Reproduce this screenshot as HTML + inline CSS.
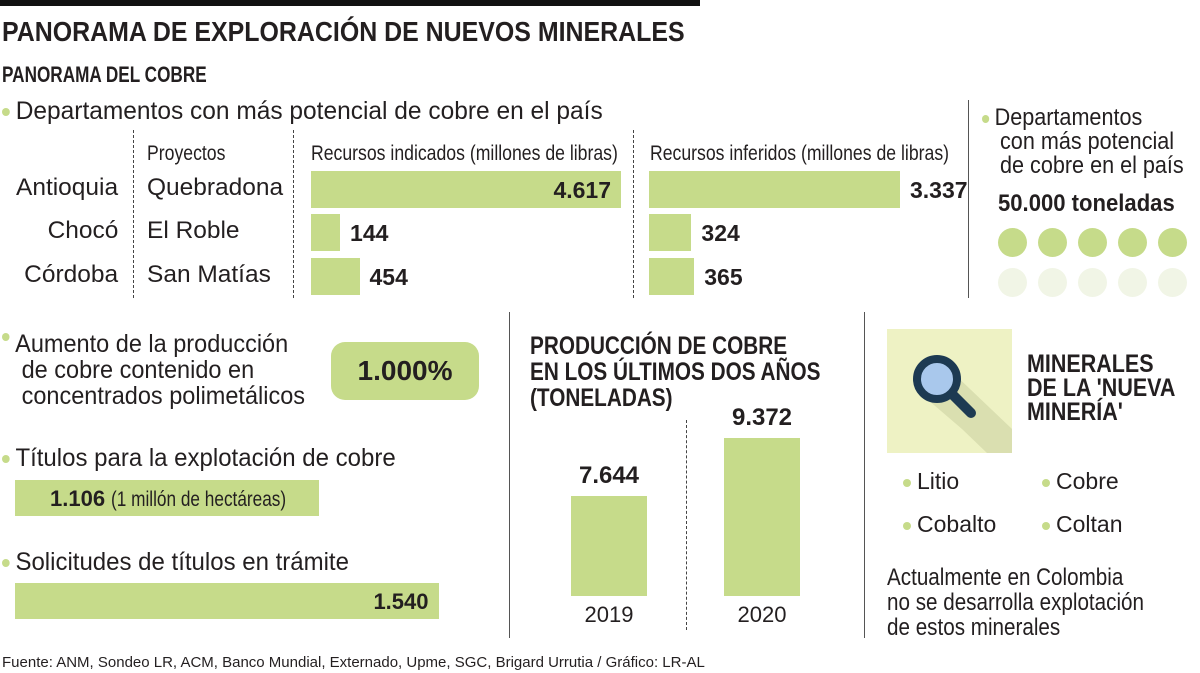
<!DOCTYPE html>
<html><head><meta charset="utf-8">
<style>
body{margin:0;width:1200px;height:673px;background:#fff;position:relative;overflow:hidden;font-family:"Liberation Sans",sans-serif;color:#231f20}
.a{position:absolute;white-space:nowrap}
.c{transform:scaleX(var(--s,.95));transform-origin:0 0}
.cr{transform:scaleX(var(--s,.95));transform-origin:100% 0}
.dot{display:inline-block;width:8px;height:8px;border-radius:50%;background:#c6db8a;margin-right:6px;vertical-align:middle}
.bar{position:absolute;background:#c6db8a}
.vl{position:absolute;width:0;border-left:1px dashed #444}
.sl{position:absolute;width:1px;background:#555}
.b{font-weight:bold}
</style></head><body>
<div class="a" style="left:0;top:0;width:700px;height:6px;background:#111"></div>
<div class="a c b" style="--s:.89;left:2px;top:16px;font-size:28px">PANORAMA DE EXPLORACIÓN DE NUEVOS MINERALES</div>
<div class="a c b" style="--s:.78;left:2px;top:62px;font-size:22px">PANORAMA DEL COBRE</div>
<div class="a c" style="--s:.98;left:2px;top:97px;font-size:25px"><span class="dot"></span>Departamentos con más potencial de cobre en el país</div>

<div class="vl" style="left:133px;top:130px;height:168px"></div>
<div class="vl" style="left:293px;top:130px;height:168px"></div>
<div class="vl" style="left:633px;top:130px;height:168px"></div>
<div class="a c" style="--s:.84;left:147px;top:142px;font-size:21px">Proyectos</div>
<div class="a c" style="--s:.84;left:311px;top:142px;font-size:21px">Recursos indicados (millones de libras)</div>
<div class="a c" style="--s:.84;left:650px;top:142px;font-size:21px">Recursos inferidos (millones de libras)</div>
<div id="rows"></div>

<div class="sl" style="left:968px;top:100px;height:198px"></div>
<div class="a c" style="--s:.9;left:982px;top:106px;font-size:24px;line-height:24px"><span class="dot"></span>Departamentos<br>&nbsp;&nbsp;&nbsp;con más potencial<br>&nbsp;&nbsp;&nbsp;de cobre en el país</div>
<div class="a c b" style="--s:.92;left:998px;top:190px;font-size:24px">50.000 toneladas</div>
<div id="circles"></div>

<div class="a c" style="--s:.94;left:2px;top:331px;font-size:25px;line-height:26px"><span class="dot" style="vertical-align:top;margin-top:2px"></span>Aumento de la producción<br>&nbsp;&nbsp;&nbsp;de cobre contenido en<br>&nbsp;&nbsp;&nbsp;concentrados polimetálicos</div>
<div class="a b" style="left:331px;top:342px;width:148px;height:58px;border-radius:14px;background:#c6db8a;font-size:28px;line-height:58px;text-align:center">1.000%</div>

<div class="a c" style="--s:.96;left:2px;top:444px;font-size:25px"><span class="dot"></span>Títulos para la explotación de cobre</div>
<div class="a c" style="--s:.96;left:2px;top:548px;font-size:25px"><span class="dot"></span>Solicitudes de títulos en trámite</div>
<div id="titlebars"></div>

<div class="sl" style="left:509px;top:312px;height:326px"></div>
<div class="a c b" style="--s:.83;left:530px;top:333px;font-size:25px;line-height:26px">PRODUCCIÓN DE COBRE<br>EN LOS ÚLTIMOS DOS AÑOS<br>(TONELADAS)</div>
<div class="vl" style="left:686px;top:420px;height:210px"></div>
<div id="prod"></div>

<div class="sl" style="left:864px;top:312px;height:326px"></div>
<div class="a" style="left:887px;top:329px;width:125px;height:124px;background:#eef2c4;overflow:hidden">
<svg width="125" height="124"><polygon points="40,70 75,100 100,124 125,124 125,100 62,40" fill="#dadfb0"/>
<line x1="58" y1="58" x2="84" y2="84" stroke="#1d3a52" stroke-width="10" stroke-linecap="round"/>
<circle cx="50" cy="50" r="20" fill="#a9c8ec" stroke="#1d3a52" stroke-width="8"/></svg></div>
<div class="a c b" style="--s:.86;left:1027px;top:352px;font-size:25px;line-height:24px">MINERALES<br>DE LA 'NUEVA<br>MINERÍA'</div>
<div class="a c" style="--s:1;left:903px;top:468px;font-size:23px"><span class="dot"></span>Litio</div>
<div class="a c" style="--s:1;left:1042px;top:468px;font-size:23px"><span class="dot"></span>Cobre</div>
<div class="a c" style="--s:1;left:903px;top:511px;font-size:23px"><span class="dot"></span>Cobalto</div>
<div class="a c" style="--s:1;left:1042px;top:511px;font-size:23px"><span class="dot"></span>Coltan</div>
<div class="a c" style="--s:.86;left:887px;top:565px;font-size:24px;line-height:25px">Actualmente en Colombia<br>no se desarrolla explotación<br>de estos minerales</div>

<div class="a c" style="--s:1;left:2px;top:654px;font-size:15px">Fuente: ANM, Sondeo LR, ACM, Banco Mundial, Externado, Upme, SGC, Brigard Urrutia / Gráfico: LR-AL</div>

<script>
const departments=["Antioquia","Chocó","Córdoba"];
const projects=["Quebradona","El Roble","San Matías"];
const indicated=[4617,144,454];
const inferred=[3337,324,365];
const indicatedLabels=["4.617","144","454"];
const inferredLabels=["3.337","324","365"];
const titleValues=[1106,1540];
const titleLabels=["1.106","1.540"];
const prodYears=["2019","2020"];
const prodValues=[7644,9372];
const prodLabels=["7.644","9.372"];

function mk(parent,cls,style,text){const e=document.createElement('div');e.className=cls;e.style.cssText=style;if(text!==undefined)e.innerHTML=text;parent.appendChild(e);return e;}
const xInd=v=>20+v*290/4617;
const xInf=v=>20+v*231/3337;
const rows=document.getElementById('rows');
const rowTop=[171,214,258];
departments.forEach((d,i)=>{
  const y=rowTop[i];
  let e=mk(rows,'a cr','--s:1.02;right:1082px;top:'+(y+3)+'px;font-size:24px',d);
  
  
  e=mk(rows,'a c','--s:1.02;left:147px;top:'+(y+3)+'px;font-size:24px',projects[i]);
  
  
  const w1=xInd(indicated[i]);
  e=mk(rows,'bar','left:311px;top:'+y+'px;width:'+w1+'px;height:37px');
  
  
  const big1=w1>200;
  e=mk(rows,'a b','top:'+(y+6)+'px;font-size:23px;'+(big1?'left:'+(311+w1-90)+'px;width:80px;text-align:right':'left:'+(311+w1+10)+'px'),indicatedLabels[i]);
  
  
  const w2=xInf(inferred[i]);
  e=mk(rows,'bar','left:649px;top:'+y+'px;width:'+w2+'px;height:37px');
  
  
  e=mk(rows,'a b','top:'+(y+6)+'px;font-size:23px;left:'+(649+w2+10)+'px',inferredLabels[i]);
  
  
});
const circ=document.getElementById('circles');
for(let r=0;r<2;r++)for(let k=0;k<5;k++){
  const e=mk(circ,'a','left:'+(998+k*40)+'px;top:'+(228+r*40)+'px;width:29px;height:29px;border-radius:50%;background:'+(r?'#f1f5e6':'#c6db8a'));
  
  
}
const tb=document.getElementById('titlebars');
const tTop=[480,583];
titleValues.forEach((v,i)=>{
  const w=v*0.275;
  let e=mk(tb,'bar','left:15px;top:'+tTop[i]+'px;width:'+w+'px;height:36px');
  
  
  const t=i===0?'<b>'+titleLabels[i]+'</b> <span style="display:inline-block;transform:scaleX(.82);transform-origin:0 0;font-size:21px">(1 millón de hectáreas)</span>':'<b>'+titleLabels[i]+'</b>';
  e=mk(tb,'a','top:'+(tTop[i]+6)+'px;font-size:22px;'+(i===0?'left:50px':'left:'+(15+w-90)+'px;width:80px;text-align:right'),t);
  
  
});
const pr=document.getElementById('prod');
const base=596,hScale=v=>(v-4664)*0.03356;
const px=[571,724];
prodValues.forEach((v,i)=>{
  const h=hScale(v);
  let e=mk(pr,'bar','left:'+px[i]+'px;top:'+(base-h)+'px;width:76px;height:'+h+'px');
  
  
  e=mk(pr,'a b','left:'+(px[i]-12)+'px;width:100px;text-align:center;top:'+(base-h-34)+'px;font-size:24px',prodLabels[i]);
  
  
  e=mk(pr,'a','left:'+(px[i]-12)+'px;width:100px;text-align:center;top:602px;font-size:22px',prodYears[i]);
  
  
});
</script>
</body></html>
